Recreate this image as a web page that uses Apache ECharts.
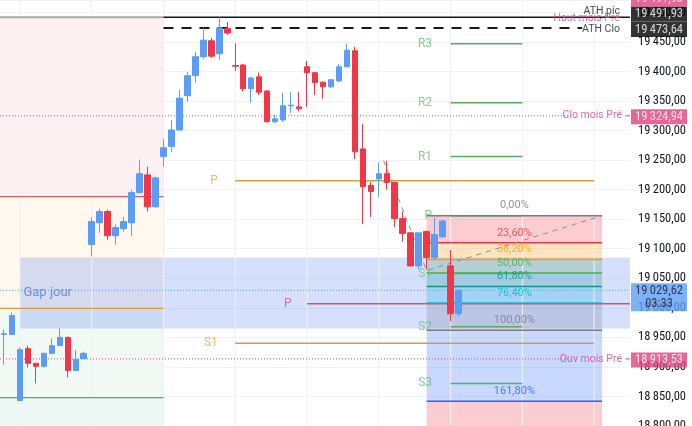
<!DOCTYPE html>
<html><head><meta charset="utf-8">
<script src="https://cdn.jsdelivr.net/npm/echarts@6/dist/echarts.min.js"></script>
<style>html,body{margin:0;padding:0;background:#fff;overflow:hidden}#c{width:692px;height:426px}</style>
</head><body><div id="c"></div>
<script>
// ---------- DATA ----------
const slotCount = 79;
const opens  = [18955,18955,18843,18931,18906,18901,18923,18936,18950,18894,18914,19107,19144,19163,19122,19134,19144,19195,19225,19171,19256,19273,19301,19359,19393,19425,19452,19430,19473,19410,19411,19371,19391,19367,19315,19318,19342,19340,19408,19398,19382,19374,19384,19408,19435,19269,19207,19218,19227,19212,19151,19127,19071,19129,19085,19120,19071,18990];
const closes = [18956,18987,18929,18906,18901,18923,18936,18950,18894,18913,18923,19146,19163,19122,19136,19146,19195,19227,19171,19220,19271,19301,19355,19393,19425,19453,19426,19473.64,19465,19409,19371,19389,19365,19315,19320,19342,19343,19337,19398,19381,19374,19386,19408,19436,19264,19205,19197,19227,19212,19151,19126,19071,19127,19085,19124,19147,18990,19029.62];
const lows   = [18904,18954,18842,18899,18872,18899,18922,18935,18882,18893,18913,19087,19127,19115,19107,19129,19122,19194,19163,19170,19239,19264,19300,19349,19381,19421,19423,19420,19462,19401,19366,19347,19360,19314,19313,19315,19330,19333,19340,19360,19354,19372,19382,19407,19252,19142,19154,19188,19200,19137,19112,19070,19066,19066,19082,19119,18977,18985];
const highs  = [18963,18992,18933,18936,18907,18924,18948,18965,18951,18929,18926,19153,19168,19166,19141,19154,19200,19251,19239,19222,19286,19318,19369,19399,19433,19474,19457,19491.93,19484,19448,19413,19391,19398,19368,19327,19364,19365,19365,19418,19399,19383,19387,19413,19447,19442,19311,19213,19246,19249,19213,19163,19128,19128,19131,19153,19149,19098,19030];

const verticalGrid = [2,11,20,29,38,47,56,65,74];

const athPic = 19491.93, athClo = 19473.64, hautMoisPre = 19491.93;
const cloMoisPre = 19324.94, ouvMoisPre = 18913.53, lastPrice = 19029.62, countdown = '03:33';

const prevDaySpan = [-0.5, 20];
const prevDayLevels = [19491.93, 19188, 18999, 18848, 18800];

const dayPivotNames = ['P','S1'];
const dayPivotValues = [19215, 18940];
const dayPivotSpan = [29, 74];

const weekPivotNames = ['P'];
const weekPivotValues = [19007];
const weekPivotSpan = [38, 78.5];

const greenPivotNames = ['R3','R2','R1','P','S1','S2','S3'];
const greenPivotValues = [19447,19347,19256,19156,19058,18968,18872];
const greenPivotSpan = [56, 65];

const fibNames  = ['0,00%','23,60%','38,20%','50,00%','61,80%','76,40%','100,00%','161,80%'];
const fibPrices = [19156,19110,19082,19059,19036,19008,18962,18842];
const fibBelow = 18800;
const fibSpan = [53, 75];
const fibTrend = [[47.6,19249],[53,19063],[75,19156]];

const gapSpan = [2, 78.5];
const gapTop = 19085, gapBottom = 18965;
const gapText = 'Gap jour';

const yMin = 18800, yMax = 19521, yStep = 50;
const xLeft = -0.5, xRight = 78.5;

// ---------- STYLE / BUILD ----------
const FONT = 'Roboto, "Liberation Sans", sans-serif';
const NARROW = '"Liberation Sans Narrow", "Arial Narrow", "Roboto Condensed", Roboto, sans-serif';
const UP = '#5b9cf6', DOWN = '#f23645';
const PINK = '#e0407b', PINKTXT = '#d9468a';
function fmt(v){
  const s = v.toFixed(2).split('.');
  return s[0].replace(/\B(?=(\d{3})+(?!\d))/g,'\u2009') + ',' + s[1];
}
const slots = Array.from({length: slotCount}, (_, i) => String(i + 1));
const candleData = opens.map((o,i)=>[o, closes[i], lows[i], highs[i]]);

function rectSeries(rects, colors, z){
  return {type:'custom', xAxisIndex:1, yAxisIndex:0, z, silent:true, animation:false, clip:true,
    data: rects.map((r,i)=>[r[0], r[1], r[2], r[3], i]),
    encode:{x:[0,1], y:[2,3]},
    renderItem(params, api){
      const p1 = api.coord([api.value(0), api.value(2)]);
      const p2 = api.coord([api.value(1), api.value(3)]);
      const cs = params.coordSys;
      const shape = echarts.graphic.clipRectByRect(
        {x:p1[0], y:p1[1], width:p2[0]-p1[0], height:p2[1]-p1[1]},
        {x:cs.x, y:cs.y, width:cs.width, height:cs.height});
      return shape && {type:'rect', shape, style:{fill: colors[api.value(4)]}};
    }};
}
function seg(points, color, width, type, z){
  return {type:'line', xAxisIndex:1, yAxisIndex:0, data: points, symbol:'none', silent:true,
    animation:false, z: z||3, lineStyle:{color, width, type: type||'solid'}};
}
function texts(items, label, z){
  return {type:'scatter', xAxisIndex:1, yAxisIndex:0, symbolSize:1, clip:false, silent:true,
    animation:false, z: z||10, itemStyle:{color:'transparent'},
    data: items.map(it=>({value:[it[0], it[1]], label:Object.assign({formatter: it[2]}, it[3]||{})})),
    label: Object.assign({show:true, fontFamily:FONT}, label)};
}

const series = [];
verticalGrid.forEach(x => series.push(seg([[x,yMin],[x,yMax]], '#eef1f5', 1, 'solid', 0)));

const pdColors = ['#fdf0f2','#fef8ee','#f0f9f3','#edf8f5'];
const pdRects = [];
for (let i=0;i<prevDayLevels.length-1;i++) pdRects.push([prevDaySpan[0], prevDaySpan[1], prevDayLevels[i], prevDayLevels[i+1]]);
series.push(rectSeries(pdRects, pdColors, 1));

const fibFill = ['rgba(242,54,69,0.25)','rgba(255,152,0,0.25)','rgba(76,175,80,0.25)','rgba(8,153,129,0.25)','rgba(0,188,212,0.25)','rgba(120,123,134,0.25)','rgba(41,98,255,0.25)','rgba(242,54,69,0.25)'];
const fibRects = [];
for (let i=0;i<fibPrices.length;i++) fibRects.push([fibSpan[0], fibSpan[1], fibPrices[i], i+1<fibPrices.length ? fibPrices[i+1] : fibBelow]);
series.push(rectSeries(fibRects, fibFill, 1));

series.push(rectSeries([[gapSpan[0], gapSpan[1], gapTop, gapBottom]], ['rgba(70,112,245,0.22)'], 2));

const pdLineColors = ['#a8a8a8','#b23a3a','#e09a3a','#4caf50'];
for (let i=0;i<4;i++) series.push(seg([[prevDaySpan[0],prevDayLevels[i]],[prevDaySpan[1],prevDayLevels[i]]], pdLineColors[i], i===0?2:1.2));

series.push(seg([[prevDaySpan[1], athPic],[xRight, athPic]], '#131722', 1.5));
series.push(seg([[prevDaySpan[1], athClo],[72.5, athClo]], '#131722', 2, [10,8]));

series.push(seg([[xLeft, cloMoisPre],[71.2, cloMoisPre]], '#c9507f', 1, [1,2]));
series.push(seg([[77.9, cloMoisPre],[xRight, cloMoisPre]], '#c9507f', 1));
series.push(seg([[xLeft, ouvMoisPre],[71.0, ouvMoisPre]], '#c9507f', 1, [1,2]));
series.push(seg([[77.9, ouvMoisPre],[xRight, ouvMoisPre]], '#c9507f', 1));

series.push(seg([[xLeft, lastPrice],[xRight, lastPrice]], UP, 1, [1,2]));

dayPivotValues.forEach(v => series.push(seg([[dayPivotSpan[0],v],[dayPivotSpan[1],v]], '#d4a03a', 1.5)));
weekPivotValues.forEach(v => series.push(seg([[weekPivotSpan[0],v],[weekPivotSpan[1],v]], '#b85c7c', 1.5)));
greenPivotValues.forEach(v => series.push(seg([[greenPivotSpan[0],v],[greenPivotSpan[1],v]], '#5aab5e', 1.5)));
const fibLine = ['#787b86','#f23645','#ff9800','#4caf50','#089981','#00bcd4','#787b86','#2962ff'];
fibPrices.forEach((v,i) => series.push(seg([[fibSpan[0],v],[fibSpan[1],v]], fibLine[i], 1.5)));
series.push(seg(fibTrend, '#8a8d96', 1, [5,5]));

series.push({type:'candlestick', xAxisIndex:0, yAxisIndex:0, data: candleData, barWidth:6, z:5,
  animation:false, silent:true,
  itemStyle:{color:UP, color0:DOWN, borderColor:UP, borderColor0:DOWN, borderWidth:1}});

series.push(texts(dayPivotNames.map((n,i)=>[dayPivotSpan[0], dayPivotValues[i], n]),
  {position:'left', distance:17, color:'#e8a23a', fontSize:12}));
series.push(texts(weekPivotNames.map((n,i)=>[weekPivotSpan[0], weekPivotValues[i], n]),
  {position:'left', distance:15, color:'#d6508a', fontSize:12}));
series.push(texts(greenPivotNames.map((n,i)=>[greenPivotSpan[0], greenPivotValues[i], n]),
  {position:'left', distance:18, color:'#6cbf70', fontSize:12}));
const fibTxt = ['#787b86','#f23645','#ff9800','#4caf50','#089981','#00bcd4','#787b86','#2962ff'];
series.push(texts(fibNames.map((n,i)=>[(fibSpan[0]+fibSpan[1])/2, fibPrices[i], n, {color: fibTxt[i]}]),
  {position:'top', distance:4, fontSize:11}));
series.push(texts([[gapSpan[0], (gapTop+gapBottom)/2, gapText]],
  {position:'right', distance:3, color:'#5079dc', fontSize:13}));

series.push(texts([
  [xRight, athPic, 'ATH pic', {color:'#131722', offset:[-10,-6]}],
  [xRight, hautMoisPre, 'Haut mois Pré', {color:PINKTXT, offset:[-10,1]}],
  [xRight, athClo, 'ATH Clo', {color:'#131722', offset:[-10,1]}],
  [xRight, cloMoisPre, 'Clo mois Pré', {color:PINKTXT, offset:[-8,0]}],
  [xRight, ouvMoisPre, 'Ouv mois Pré', {color:PINKTXT, offset:[-8,0]}]
], {position:'inside', align:'right', verticalAlign:'middle', fontSize:10.5}, 11));

const boxBase = {position:'inside', align:'center', verticalAlign:'middle', fontSize:12.5, fontFamily:NARROW, width:50, padding:[1,3], lineHeight:13};
series.push(texts([
  [xRight, hautMoisPre, fmt(hautMoisPre), {backgroundColor:PINK, color:'#fff', offset:[29,-18]}],
  [xRight, athPic, fmt(athPic), {backgroundColor:'#000', color:'#fff', offset:[29,-3]}],
  [xRight, athClo, fmt(athClo), {backgroundColor:'#000', color:'#fff', offset:[29,1.5]}],
  [xRight, cloMoisPre, fmt(cloMoisPre), {backgroundColor:PINK, color:'#fff', offset:[29,1]}],
  [xRight, lastPrice, fmt(lastPrice) + '\n' + countdown, {backgroundColor:'#5e9ff5', color:'#131722', offset:[29,7]}],
  [xRight, ouvMoisPre, fmt(ouvMoisPre), {backgroundColor:PINK, color:'#fff', offset:[29,1]}]
], boxBase, 20));

const option = {
  animation:false,
  backgroundColor:'#ffffff',
  grid:{left:0, right:62, top:0, bottom:0, containLabel:false, outerBoundsMode:'none'},
  xAxis:[
    {type:'category', data: slots, boundaryGap:true, show:false},
    {type:'value', min:xLeft, max:xRight, show:false}
  ],
  yAxis:{type:'value', position:'right', min:yMin, max:yMax, interval:yStep,
    axisLine:{show:false}, axisTick:{show:false},
    axisLabel:{showMaxLabel:false, color:'#131722', fontSize:12.5, margin:8, fontFamily:NARROW, formatter: v => fmt(v)},
    splitLine:{lineStyle:{color:'#f0f2f6', width:1}}},
  series
};
const chart = echarts.init(document.getElementById('c'), null, {renderer:'canvas'});
chart.setOption(option);
</script>
</body></html>
